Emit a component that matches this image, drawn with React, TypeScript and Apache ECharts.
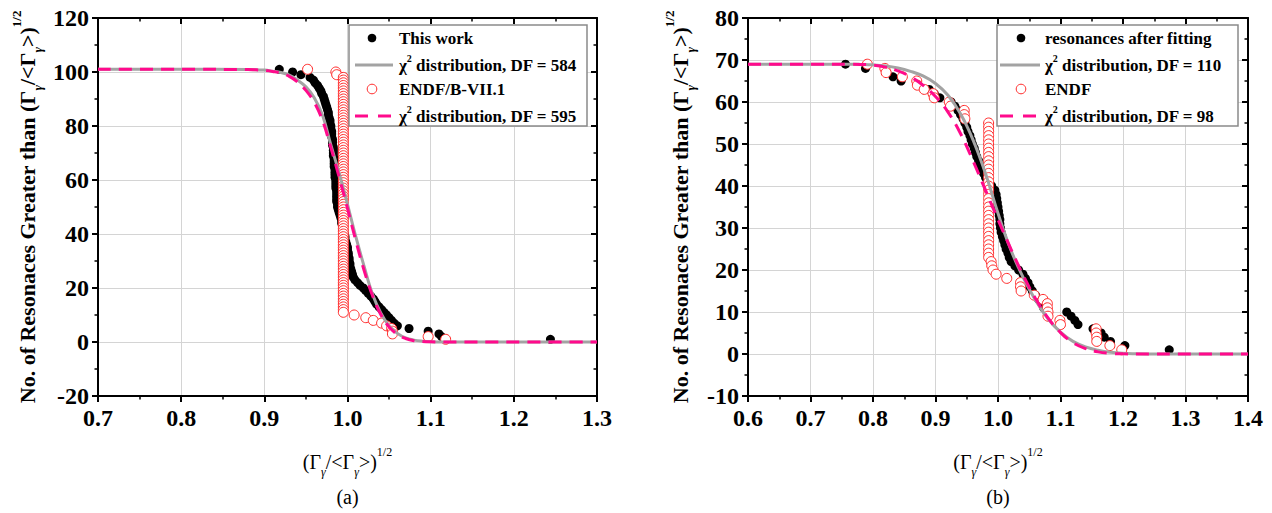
import React, { useEffect, useRef } from "react";
import * as echarts from "echarts";

const FONT = '"Liberation Serif", "Times New Roman", Times, serif';

// ---------------- Panel (a) ----------------
const rangeA = { xMin: 0.7, xMax: 1.3, xStep: 0.1, yMin: -20, yMax: 120, yStep: 20 };
const legendA = ["This work", "χ|2| distribution, DF = 584", "ENDF/B-VII.1", "χ|2| distribution, DF = 595"];

const thisWorkA: [number, number][] = [
  [0.918, 101], [0.934, 100], [0.944, 99], [0.955, 98], [0.959, 97], [0.961, 96], [0.964, 95], [0.966, 94],
  [0.968, 93], [0.969, 92], [0.971, 91], [0.972, 90], [0.973, 89], [0.974, 88], [0.975, 87], [0.976, 86],
  [0.977, 85], [0.977, 84], [0.978, 83], [0.979, 82], [0.979, 81], [0.98, 80], [0.98, 79], [0.981, 78],
  [0.981, 77], [0.981, 76], [0.982, 75], [0.982, 74], [0.982, 73], [0.983, 72], [0.983, 71], [0.983, 70],
  [0.983, 69], [0.984, 68], [0.984, 67], [0.984, 66], [0.984, 65], [0.985, 64], [0.985, 63], [0.985, 62],
  [0.985, 61], [0.986, 60], [0.986, 59], [0.986, 58], [0.986, 57], [0.987, 56], [0.987, 55], [0.987, 54],
  [0.987, 53], [0.987, 52], [0.988, 51], [0.988, 50], [0.989, 49], [0.99, 48], [0.991, 47], [0.992, 46],
  [0.993, 45], [0.993, 44], [0.994, 43], [0.995, 42], [0.995, 41], [0.996, 40], [0.997, 39], [0.997, 38],
  [0.998, 37], [0.999, 36], [1.0, 35], [1.0, 34], [1.001, 33], [1.001, 32], [1.002, 31], [1.002, 30],
  [1.003, 29], [1.003, 28], [1.004, 27], [1.005, 26], [1.006, 25], [1.007, 24], [1.009, 23], [1.012, 22],
  [1.015, 21], [1.019, 20], [1.022, 19], [1.025, 18], [1.028, 17], [1.031, 16], [1.033, 15], [1.035, 14],
  [1.038, 13], [1.041, 12], [1.044, 11], [1.047, 10], [1.05, 9], [1.053, 8], [1.056, 7], [1.06, 6],
  [1.074, 5], [1.097, 4], [1.11, 3], [1.113, 2], [1.244, 1],
];

const chi584A: [number, number][] = [
  [0.7, 101], [0.8, 101], [0.88, 100.9], [0.89, 100.8], [0.9, 100.7], [0.91, 100.3], [0.92, 99.8],
  [0.93, 98.8], [0.94, 97], [0.95, 94.5], [0.96, 90.5], [0.97, 84], [0.98, 73], [0.99, 62.5], [1.0, 51],
  [1.01, 39], [1.02, 28], [1.03, 17.8], [1.04, 10.8], [1.05, 6], [1.06, 3.2], [1.07, 1.5], [1.08, 0.7],
  [1.09, 0.3], [1.1, 0.1], [1.11, 0.03], [1.12, 0], [1.2, 0], [1.3, 0],
];

const endfA: [number, number][] = [
  [0.952, 101], [0.986, 100], [0.987, 99],
  [0.995, 98], [0.995, 97], [0.995, 96], [0.995, 95], [0.995, 94], [0.995, 93], [0.995, 92], [0.995, 91],
  [0.995, 90], [0.995, 89], [0.995, 88], [0.995, 87], [0.995, 86], [0.995, 85], [0.995, 84], [0.995, 83],
  [0.995, 82], [0.995, 81], [0.995, 80], [0.995, 79], [0.995, 78], [0.995, 77], [0.995, 76], [0.995, 75],
  [0.995, 74], [0.995, 73], [0.995, 72], [0.995, 71], [0.995, 70], [0.995, 69], [0.995, 68], [0.995, 67],
  [0.995, 66], [0.995, 65], [0.995, 64], [0.995, 63], [0.995, 62], [0.995, 61], [0.995, 60], [0.995, 59],
  [0.995, 58], [0.995, 57], [0.995, 56], [0.995, 55], [0.995, 54], [0.995, 53], [0.995, 52], [0.995, 51],
  [0.995, 50], [0.995, 49], [0.995, 48], [0.995, 47], [0.995, 46], [0.995, 45], [0.995, 44], [0.995, 43],
  [0.995, 42], [0.995, 41], [0.995, 40], [0.995, 39], [0.995, 38], [0.995, 37], [0.995, 36], [0.995, 35],
  [0.995, 34], [0.995, 33], [0.995, 32], [0.995, 31], [0.995, 30], [0.995, 29], [0.995, 28], [0.995, 27],
  [0.995, 26], [0.995, 25], [0.995, 24], [0.995, 23], [0.995, 22], [0.995, 21], [0.995, 20], [0.995, 19],
  [0.995, 18], [0.995, 17], [0.995, 16], [0.995, 15], [0.995, 14], [0.995, 13], [0.995, 12], [0.995, 11],
  [1.008, 10], [1.022, 9], [1.031, 8], [1.041, 7], [1.047, 6], [1.053, 5], [1.054, 4], [1.054, 3],
  [1.097, 2], [1.118, 1],
];

const chi595A: [number, number][] = [
  [0.7, 101], [0.8, 101], [0.88, 100.9], [0.89, 100.8], [0.9, 100.6], [0.91, 100.2], [0.92, 99.6],
  [0.93, 98.4], [0.94, 96.3], [0.95, 93.2], [0.96, 88.8], [0.97, 82], [0.98, 72], [0.99, 61], [1.0, 49.5],
  [1.01, 37.5], [1.02, 26.5], [1.03, 17.2], [1.04, 10.2], [1.05, 5.6], [1.06, 2.8], [1.07, 1.3], [1.08, 0.5],
  [1.09, 0.2], [1.1, 0.06], [1.11, 0.02], [1.12, 0], [1.2, 0], [1.3, 0],
];

// ---------------- Panel (b) ----------------
const rangeB = { xMin: 0.6, xMax: 1.4, xStep: 0.1, yMin: -10, yMax: 80, yStep: 10 };
const legendB = ["resonances after fitting", "χ|2| distribution, DF = 110", "ENDF", "χ|2| distribution, DF = 98"];

const fitB: [number, number][] = [
  [0.756, 69], [0.788, 68], [0.822, 67], [0.832, 66], [0.845, 65], [0.872, 64], [0.89, 63], [0.898, 62],
  [0.907, 61], [0.925, 60], [0.931, 59], [0.936, 58], [0.94, 57], [0.944, 56], [0.947, 55], [0.95, 54],
  [0.952, 53], [0.955, 52], [0.957, 51], [0.959, 50], [0.962, 49], [0.964, 48], [0.966, 47], [0.969, 46],
  [0.971, 45], [0.974, 44], [0.977, 43], [0.98, 42], [0.984, 41], [0.99, 40], [0.995, 39], [0.997, 38],
  [0.998, 37], [0.999, 36], [1.0, 35], [1.001, 34], [1.002, 33], [1.003, 32], [1.003, 31], [1.004, 30],
  [1.005, 29], [1.007, 28], [1.009, 27], [1.011, 26], [1.013, 25], [1.016, 24], [1.018, 23], [1.021, 22],
  [1.027, 21], [1.033, 20], [1.04, 19], [1.044, 18], [1.048, 17], [1.051, 16], [1.055, 15], [1.06, 14],
  [1.065, 13], [1.07, 12], [1.073, 11], [1.11, 10], [1.117, 9], [1.123, 8], [1.128, 7], [1.152, 6],
  [1.165, 5], [1.17, 4], [1.18, 3], [1.203, 2], [1.274, 1],
];

const chi110B: [number, number][] = [
  [0.6, 69], [0.7, 69], [0.76, 69], [0.78, 68.95], [0.8, 68.85], [0.82, 68.6], [0.84, 68.1], [0.86, 67.3],
  [0.88, 66.2], [0.9, 64.4], [0.92, 61.6], [0.94, 57.2], [0.96, 51], [0.98, 43], [1.0, 33.5], [1.02, 25],
  [1.04, 18.3], [1.06, 12.8], [1.08, 8.4], [1.1, 5.2], [1.12, 3.0], [1.14, 1.7], [1.16, 0.9], [1.18, 0.4],
  [1.2, 0.15], [1.22, 0.05], [1.24, 0], [1.3, 0], [1.4, 0],
];

const endfB: [number, number][] = [
  [0.791, 69], [0.819, 68], [0.821, 67], [0.847, 66], [0.87, 65], [0.871, 64], [0.882, 63], [0.896, 62],
  [0.898, 61], [0.922, 60], [0.924, 59], [0.946, 58], [0.946, 57], [0.947, 56],
  [0.985, 55], [0.985, 54], [0.985, 53], [0.985, 52], [0.985, 51], [0.985, 50], [0.985, 49], [0.985, 48],
  [0.985, 47], [0.985, 46], [0.985, 45], [0.985, 44], [0.985, 43], [0.985, 42], [0.985, 41], [0.985, 40],
  [0.985, 39], [0.985, 38], [0.985, 37], [0.985, 36], [0.985, 35], [0.985, 34], [0.985, 33], [0.985, 32],
  [0.985, 31], [0.985, 30], [0.985, 29], [0.985, 28], [0.985, 27], [0.985, 26], [0.985, 25], [0.985, 24],
  [0.985, 23],
  [0.989, 22], [0.99, 21], [0.992, 20], [0.997, 19], [1.014, 18], [1.036, 17], [1.036, 16], [1.037, 15],
  [1.058, 14], [1.072, 13], [1.079, 12], [1.079, 11], [1.08, 10], [1.08, 9], [1.099, 8], [1.1, 7],
  [1.157, 6], [1.157, 5], [1.158, 4], [1.158, 3], [1.179, 2], [1.198, 1],
];

const chi98B: [number, number][] = [
  [0.6, 69], [0.7, 69], [0.76, 69], [0.78, 68.95], [0.8, 68.8], [0.82, 68.3], [0.84, 67.4], [0.86, 66],
  [0.88, 64], [0.9, 61.3], [0.92, 57.6], [0.94, 52.5], [0.96, 46], [0.98, 39], [1.0, 32], [1.02, 25.2],
  [1.04, 18.8], [1.06, 13.2], [1.08, 8.6], [1.1, 5.1], [1.12, 2.7], [1.14, 1.3], [1.16, 0.5], [1.18, 0.15],
  [1.2, 0.03], [1.22, 0], [1.3, 0], [1.4, 0],
];

// ---------------- styling ----------------
const GRAY = "#a3a3a3";
const PINK = "#ff0a8c";
const RED = "#ff2a2a";
const GRID_LINE = "#d4d4d4";

type Range = { xMin: number; xMax: number; xStep: number; yMin: number; yMax: number; yStep: number };

function xAxes(grid: number, r: Range) {
  const base = {
    type: "value",
    gridIndex: grid,
    min: r.xMin,
    max: r.xMax,
    interval: r.xStep,
    axisLine: { show: true, onZero: false, lineStyle: { color: "#000", width: 2 } },
    minorTick: { show: true, splitNumber: 2, length: 3.5, lineStyle: { color: "#000", width: 1.5 } },
    minorSplitLine: { show: false },
  };
  return [
    {
      ...base,
      position: "bottom",
      axisTick: { show: true, inside: false, length: 6, lineStyle: { color: "#000", width: 2 } },
      axisLabel: {
        show: true, margin: 10, color: "#000", fontFamily: FONT, fontWeight: "bold", fontSize: 24,
        formatter: (v: number) => v.toFixed(1),
      },
      splitLine: { show: true, lineStyle: { color: GRID_LINE, width: 1 } },
    },
    {
      ...base,
      position: "top",
      axisTick: { show: true, inside: true, length: 6, lineStyle: { color: "#000", width: 2 } },
      axisLabel: { show: false },
      splitLine: { show: false },
    },
  ];
}

function yAxes(grid: number, r: Range) {
  const base = {
    type: "value",
    gridIndex: grid,
    min: r.yMin,
    max: r.yMax,
    interval: r.yStep,
    axisLine: { show: true, onZero: false, lineStyle: { color: "#000", width: 2 } },
    minorTick: { show: true, splitNumber: 2, length: 3.5, lineStyle: { color: "#000", width: 1.5 } },
    minorSplitLine: { show: false },
  };
  return [
    {
      ...base,
      position: "left",
      axisTick: { show: true, inside: false, length: 6, lineStyle: { color: "#000", width: 2 } },
      axisLabel: {
        show: true, margin: 9, color: "#000", fontFamily: FONT, fontWeight: "bold", fontSize: 24,
      },
      splitLine: { show: true, lineStyle: { color: GRID_LINE, width: 1 } },
    },
    {
      ...base,
      position: "right",
      axisTick: { show: true, inside: true, length: 6, lineStyle: { color: "#000", width: 2 } },
      axisLabel: { show: false },
      splitLine: { show: false },
    },
  ];
}

function seriesFor(ax: number, names: string[], dots: [number, number][], chiA: [number, number][],
  endf: [number, number][], chiB: [number, number][]) {
  const common = { xAxisIndex: ax, yAxisIndex: ax };
  return [
    {
      ...common, type: "scatter", name: names[0], data: dots, symbol: "circle", symbolSize: 9,
      itemStyle: { color: "#000", opacity: 1 },
    },
    {
      ...common, type: "line", name: names[1], data: chiA, symbol: "none", showSymbol: false,
      smooth: 0.4, lineStyle: { color: GRAY, width: 3 },
    },
    {
      ...common, type: "scatter", name: names[2], data: endf, symbol: "circle", symbolSize: 10,
      itemStyle: { color: "#fff", borderColor: RED, borderWidth: 1, opacity: 1 },
    },
    {
      ...common, type: "line", name: names[3], data: chiB, symbol: "none", showSymbol: false,
      smooth: 0.4, lineStyle: { color: PINK, width: 3, type: [13, 8] },
    },
  ];
}

function richLabel(label: string) {
  const parts = label.split("|");
  if (parts.length === 1) return `{t|${label}}`;
  return `{t|${parts[0]}}{p|${parts[1]}}{t|${parts[2]}}`;
}

function legendGraphic(box: { x: number; y: number; w: number; h: number }, symX: number, lineX0: number,
  lineX1: number, textX: number, labels: string[]) {
  const rows = [38, 65, 89, 116];
  const textRich = {
    t: { fontSize: 17, fontWeight: "bold", fontFamily: FONT, fill: "#000", lineHeight: 24, verticalAlign: "middle" },
    p: { fontSize: 10, fontWeight: "bold", fontFamily: FONT, fill: "#000", lineHeight: 10, verticalAlign: "top" },
  };
  const els: any[] = [
    {
      type: "rect", z: 100, shape: { x: box.x, y: box.y, width: box.w, height: box.h },
      style: { fill: "#fff", stroke: "#8a8a8a", lineWidth: 1.5 },
    },
    { type: "circle", z: 101, shape: { cx: symX, cy: rows[0], r: 4.3 }, style: { fill: "#000" } },
    { type: "line", z: 101, shape: { x1: lineX0, y1: rows[1], x2: lineX1, y2: rows[1] }, style: { stroke: GRAY, lineWidth: 3 } },
    { type: "circle", z: 101, shape: { cx: symX, cy: rows[2], r: 4.8 }, style: { fill: "#fff", stroke: RED, lineWidth: 1 } },
    {
      type: "line", z: 101, shape: { x1: lineX0, y1: rows[3], x2: lineX1, y2: rows[3] },
      style: { stroke: PINK, lineWidth: 3, lineDash: [13, 10] },
    },
  ];
  labels.forEach((lab, i) => {
    els.push({
      type: "text", z: 101, x: textX, y: rows[i],
      style: { text: richLabel(lab), rich: textRich, align: "left", verticalAlign: "middle" },
    });
  });
  return els;
}

const gammaRich = (size: number, weight: string) => ({
  b: { fontSize: size, fontWeight: weight, fontFamily: FONT, fill: "#000", lineHeight: size + 12, verticalAlign: "middle" },
  s: { fontSize: Math.round(size * 0.6), fontStyle: "italic", fontWeight: weight, fontFamily: FONT, fill: "#000", lineHeight: Math.round(size * 0.6), verticalAlign: "bottom" },
  p: { fontSize: Math.round(size * 0.6), fontWeight: weight, fontFamily: FONT, fill: "#000", lineHeight: Math.round(size * 0.6), verticalAlign: "top" },
});

const Y_TITLE = "{b|No. of Resonaces Greater than (Γ}{s|γ}{b|/<Γ}{s|γ}{b|>)}{p|1/2}";
const X_TITLE = "{b|(Γ}{s|γ}{b|/<Γ}{s|γ}{b|>)}{p|1/2}";

function panelTexts(cx: number, yTitleX: number, tag: string) {
  return [
    {
      type: "text", x: yTitleX, y: 207, rotation: Math.PI / 2,
      style: { text: Y_TITLE, rich: gammaRich(22, "bold"), align: "center", verticalAlign: "middle" },
    },
    {
      type: "text", x: cx, y: 462,
      style: { text: X_TITLE, rich: gammaRich(20, "normal"), align: "center", verticalAlign: "middle" },
    },
    {
      type: "text", x: cx, y: 497,
      style: { text: tag, fontSize: 20, fontFamily: FONT, fill: "#000", align: "center", verticalAlign: "middle" },
    },
  ];
}

export default function App() {
  const ref = useRef<HTMLDivElement>(null);
  useEffect(() => {
    if (!ref.current) return;
    const chart = echarts.init(ref.current, undefined, { renderer: "svg" });
    const option: any = {
      animation: false,
      backgroundColor: "#fff",
      textStyle: { fontFamily: FONT },
      grid: [
        { left: 98, top: 18, width: 499, height: 378, outerBoundsMode: "none", containLabel: false },
        { left: 748, top: 18, width: 500, height: 378, outerBoundsMode: "none", containLabel: false },
      ],
      xAxis: [...xAxes(0, rangeA), ...xAxes(1, rangeB)],
      yAxis: [...yAxes(0, rangeA), ...yAxes(1, rangeB)],
      series: [
        ...seriesFor(0, legendA, thisWorkA, chi584A, endfA, chi595A),
        ...seriesFor(2, legendB, fitB, chi110B, endfB, chi98B),
      ],
      graphic: {
        elements: [
          ...panelTexts(347.5, 27, "(a)"),
          ...panelTexts(998, 680, "(b)"),
          ...legendGraphic({ x: 349, y: 25, w: 238, h: 101 }, 372, 355, 393, 399, legendA),
          ...legendGraphic({ x: 997, y: 25, w: 241, h: 101 }, 1021, 1000, 1040, 1045, legendB),
        ],
      },
    };
    chart.setOption(option);
    return () => chart.dispose();
  }, []);
  return (
    <div
      ref={ref}
      style={{ position: "absolute", left: 0, top: 0, width: 1272, height: 513, background: "#fff" }}
    />
  );
}
